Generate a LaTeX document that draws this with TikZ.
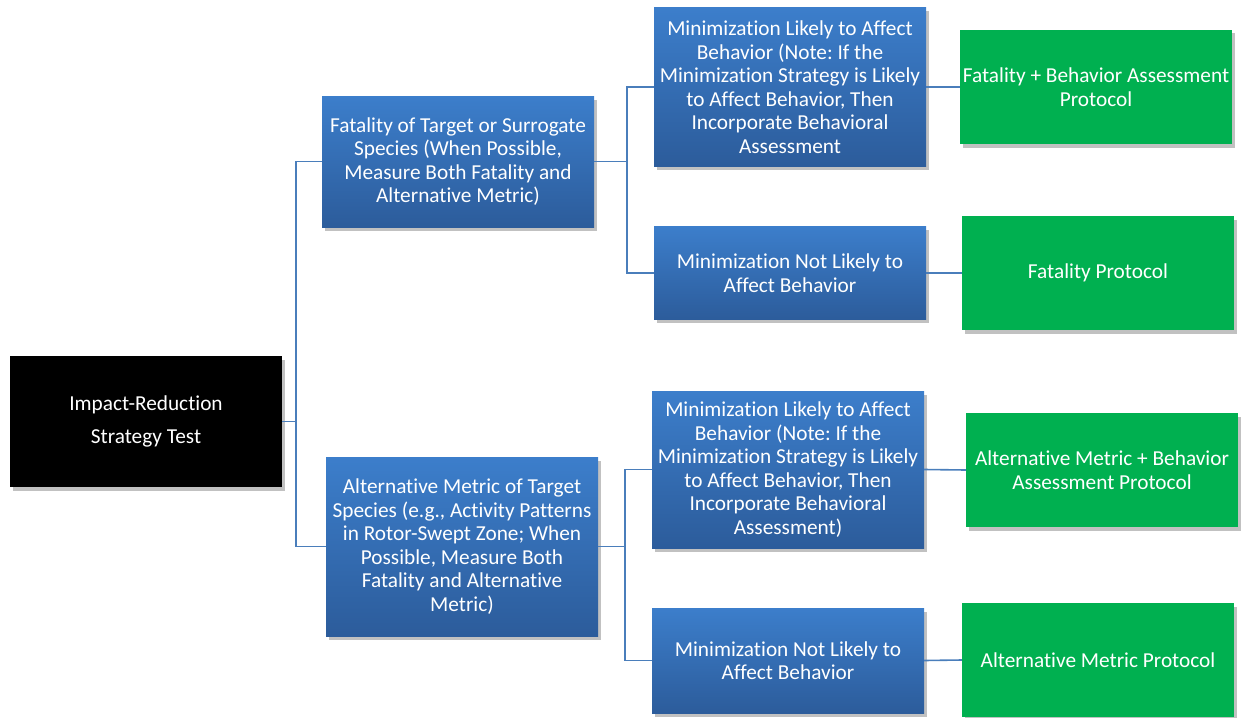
\documentclass[tikz,border=0pt]{standalone}
\usepackage{fontspec}
\setmainfont{Carlito}[Ligatures={NoCommon}]
\frenchspacing
\usetikzlibrary{shadows}
\definecolor{bluetop}{RGB}{60,126,203}
\definecolor{bluebot}{RGB}{44,92,155}
\definecolor{boxgreen}{RGB}{0,176,80}
\definecolor{linkblue}{RGB}{74,126,187}
\tikzset{
  base/.style={rectangle, text=white, align=center, inner sep=0pt,
    font=\fontsize{21.3}{23.5}\selectfont,
    drop shadow={shadow xshift=2.5pt, shadow yshift=-3.5pt, opacity=0.35, fill=black!70}},
  bluebox/.style={base, top color=bluetop, bottom color=bluebot, draw=none,
    minimum width=272pt},
  greenbox/.style={base, fill=boxgreen, minimum width=272pt, minimum height=114pt},
  blackbox/.style={base, fill=black, minimum width=272pt, minimum height=131pt,
    font=\fontsize{21.3}{33}\selectfont},
  link/.style={draw=linkblue, line width=1.6pt}
}
\begin{document}
\frenchspacing
\begin{tikzpicture}[x=1pt,y=-1pt]
\useasboundingbox (0,0) rectangle (1241,717);
% nodes
\node[blackbox] (imp) at (146,421.5) {Impact-Reduction\\Strategy Test};
\node[bluebox, minimum height=131pt] (fat) at (458,161.5)
  {Fatality of Target or Surrogate\\Species (When Possible,\\Measure Both Fatality and\\Alternative Metric)};
\node[bluebox, minimum height=179pt] (alt) at (462,546.5)
  {Alternative Metric of Target\\Species (e.g., Activity Patterns\\in Rotor-Swept Zone; When\\Possible, Measure Both\\Fatality and Alternative\\Metric)};
\node[bluebox, minimum height=158pt] (fl) at (790,87)
  {Minimization Likely to Affect\\Behavior (Note: If the\\Minimization Strategy is Likely\\to Affect Behavior, Then\\Incorporate Behavioral\\Assessment};
\node[bluebox, minimum height=93pt] (fn) at (790,273)
  {Minimization Not Likely to\\Affect Behavior};
\node[bluebox, minimum height=157pt] (al) at (788,469.5)
  {Minimization Likely to Affect\\Behavior (Note: If the\\Minimization Strategy is Likely\\to Affect Behavior, Then\\Incorporate Behavioral\\Assessment)};
\node[bluebox, minimum height=105pt] (an) at (788,660.5)
  {Minimization Not Likely to\\Affect Behavior};
\node[greenbox] (g1) at (1096,87) {Fatality + Behavior Assessment\\Protocol};
\node[greenbox] (g2) at (1098,273) {Fatality Protocol};
\node[greenbox] (g3) at (1102,470) {Alternative Metric + Behavior\\Assessment Protocol};
\node[greenbox] (g4) at (1098,660) {Alternative Metric Protocol};
% junction coordinates
\coordinate (j1) at (296,421.5);
\coordinate (j2) at (627,161.5);
\coordinate (j3) at (625,546.5);
% connectors
\draw[link] (imp.east) -- (j1) |- (fat.west);
\draw[link] (j1) |- (alt.west);
\draw[link] (fat.east) -- (j2) |- (fl.west);
\draw[link] (j2) |- (fn.west);
\draw[link] (alt.east) -- (j3) |- (al.west);
\draw[link] (j3) |- (an.west);
\draw[link] (fl.east) -- (g1.west);
\draw[link] (fn.east) -- (g2.west);
\draw[link] (al.east) -- (g3.west);
\draw[link] (an.east) -- (g4.west);
\end{tikzpicture}
\end{document}
